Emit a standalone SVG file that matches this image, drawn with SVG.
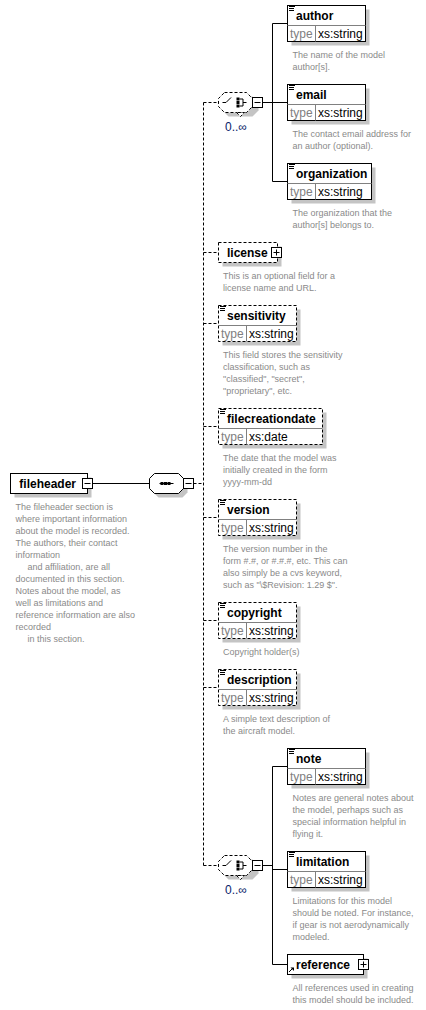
<svg xmlns="http://www.w3.org/2000/svg" xmlns:xlink="http://www.w3.org/1999/xlink" width="426" height="1010" viewBox="0 0 426 1010">
<style>
text{font-family:"Liberation Sans",Arial,sans-serif}
.box{fill:#fff;stroke:#000;stroke-width:1}
.opt{stroke-dasharray:3,2}
.sh{fill:#c4c4c4}
.ln{stroke:#000;stroke-width:1;fill:none}
.lg{stroke:#808080;stroke-width:1;fill:none}
.t{font-size:12px;font-weight:bold;fill:#000}
.ty{font-size:12px;fill:#808080}
.tv{font-size:12px;fill:#000}
.d{font-size:9px;fill:#8a8a8a}
.occ{font-size:12px;fill:#0a246a}
.c{stroke:#000;stroke-width:1;fill:none}
.cd{stroke:#000;stroke-width:1;fill:none;stroke-dasharray:3,2}
</style>
<defs>
<g id="doc"><path d="M1.5 1H7.5M1.5 3H6.5M1.5 5H6.5" stroke="#000" stroke-width="1"/></g>
<g id="minus"><rect class="box" width="10" height="10"/><path class="ln" d="M2 5H8"/></g>
<g id="plus"><rect class="box" width="10" height="10"/><path class="ln" d="M2 5H8M5 2V8"/></g>
</defs>

<g id="connectors">
<path class="c" d="M92.5 483.5H149.5"/>
<path class="cd" d="M193.5 483.5H203.5M203.5 102.5V865.5M203.5 102.5H218.5M203.5 252.5H218.5M203.5 323.5H218.5M203.5 426.5H218.5M203.5 517.5H218.5M203.5 620.5H218.5M203.5 687.5H218.5M203.5 865.5H218.5"/>
<path class="c" d="M262.5 102.5H272.5M272.5 23.5V181.5M272.5 23.5H287.5M272.5 102.5H287.5M272.5 181.5H287.5"/>
<path class="c" d="M262.5 865.5H272.5M272.5 766.5V964.5M272.5 766.5H287.5M272.5 869.5H287.5M272.5 964.5H287.5"/>
</g>

<g id="fileheader" transform="translate(10.5,473.5)">
<rect class="sh" x="4" y="4" width="77" height="20"/>
<rect class="box" width="77" height="20"/>
<text class="t" x="8.8" y="14">fileheader</text>
<use xlink:href="#minus" x="72" y="5"/>
<text class="d" x="5" y="36">The fileheader section is</text>
<text class="d" x="5" y="48">where important information</text>
<text class="d" x="5" y="60">about the model is recorded.</text>
<text class="d" x="5" y="72">The authors, their contact</text>
<text class="d" x="5" y="84">information</text>
<text class="d" x="17" y="96">and affiliation, are all</text>
<text class="d" x="5" y="108">documented in this section.</text>
<text class="d" x="5" y="120">Notes about the model, as</text>
<text class="d" x="5" y="132">well as limitations and</text>
<text class="d" x="5" y="144">reference information are also</text>
<text class="d" x="5" y="156">recorded</text>
<text class="d" x="17" y="168">in this section.</text>
</g>

<g id="sequence" transform="translate(149.5,473.5)">
<polygon class="sh" points="9,4 33,4 38,9 38,19 33,24 9,24 4,19 4,9"/>
<polygon class="box" points="5,0 29,0 34,5 34,15 29,20 5,20 0,15 0,5"/>
<path class="ln" d="M10 10H24"/>
<rect x="11" y="8.5" width="3" height="3" fill="#000"/>
<rect x="14.5" y="8.5" width="3" height="3" fill="#000"/>
<rect x="18" y="8.5" width="3" height="3" fill="#000"/>
<use xlink:href="#minus" x="34" y="5"/>
</g>

<g id="choice1" transform="translate(218.5,92.5)">
<polygon class="sh" points="10,4 34,4 40,10 40,18 34,24 10,24 4,18 4,10"/>
<polygon class="box opt" points="6,0 28,0 34,6 34,14 28,20 6,20 0,14 0,6"/>
<polygon class="box opt" points="18,20 22,24 26,20"/>
<path class="ln" d="M4 10H7.5L12.5 5"/>
<rect x="18" y="5" width="3" height="3" fill="#000"/>
<rect x="18" y="8.5" width="3" height="3" fill="#000"/>
<rect x="18" y="12" width="3" height="3" fill="#000"/>
<path class="ln" d="M21 6.5H24.5V13.5H21M24.5 10H28"/>
<use xlink:href="#minus" x="34" y="5"/>
<text class="occ" x="6.5" y="38">0..∞</text>
</g>

<g id="author" transform="translate(287.5,5.5)">
<rect class="sh" x="4" y="4" width="78" height="36"/>
<rect class="box" width="78" height="36"/>
<path class="lg" d="M0 20H78M28 20V36"/>
<use xlink:href="#doc"/>
<text class="t" x="8.5" y="14.5">author</text>
<text class="ty" x="2.5" y="32">type</text>
<text class="tv" x="30.5" y="32">xs:string</text>
<text class="d" x="5" y="52">The name of the model</text>
<text class="d" x="5" y="64">author[s].</text>
</g>

<g id="email" transform="translate(287.5,84.5)">
<rect class="sh" x="4" y="4" width="78" height="36"/>
<rect class="box" width="78" height="36"/>
<path class="lg" d="M0 20H78M28 20V36"/>
<use xlink:href="#doc"/>
<text class="t" x="8.5" y="14.5">email</text>
<text class="ty" x="2.5" y="32">type</text>
<text class="tv" x="30.5" y="32">xs:string</text>
<text class="d" x="5" y="52">The contact email address for</text>
<text class="d" x="5" y="64">an author (optional).</text>
</g>

<g id="organization" transform="translate(287.5,163.5)">
<rect class="sh" x="4" y="4" width="84" height="36"/>
<rect class="box" width="84" height="36"/>
<path class="lg" d="M0 20H84M28 20V36"/>
<use xlink:href="#doc"/>
<text class="t" x="8.5" y="14.5">organization</text>
<text class="ty" x="2.5" y="32">type</text>
<text class="tv" x="30.5" y="32">xs:string</text>
<text class="d" x="5" y="52">The organization that the</text>
<text class="d" x="5" y="64">author[s] belongs to.</text>
</g>

<g id="license" transform="translate(218.5,242.5)">
<rect class="sh" x="4" y="4" width="59" height="20"/>
<rect class="box opt" width="59" height="20"/>
<text class="t" x="8.5" y="14">license</text>
<use xlink:href="#plus" x="53" y="5"/>
<text class="d" x="4.5" y="36">This is an optional field for a</text>
<text class="d" x="4.5" y="48">license name and URL.</text>
</g>

<g id="sensitivity" transform="translate(218.5,305.5)">
<rect class="sh" x="4" y="4" width="78" height="36"/>
<rect class="box opt" width="78" height="36"/>
<path class="lg" d="M0 20H78M28 20V36"/>
<use xlink:href="#doc"/>
<text class="t" x="8.5" y="14.5">sensitivity</text>
<text class="ty" x="2.5" y="32">type</text>
<text class="tv" x="30.5" y="32">xs:string</text>
<text class="d" x="4.5" y="52">This field stores the sensitivity</text>
<text class="d" x="4.5" y="64">classification, such as</text>
<text class="d" x="4.5" y="76">"classified", "secret",</text>
<text class="d" x="4.5" y="88">"proprietary", etc.</text>
</g>

<g id="filecreationdate" transform="translate(218.5,408.5)">
<rect class="sh" x="4" y="4" width="104" height="36"/>
<rect class="box opt" width="104" height="36"/>
<path class="lg" d="M0 20H104M28 20V36"/>
<use xlink:href="#doc"/>
<text class="t" x="8.5" y="14.5">filecreationdate</text>
<text class="ty" x="2.5" y="32">type</text>
<text class="tv" x="30.5" y="32">xs:date</text>
<text class="d" x="4.5" y="52">The date that the model was</text>
<text class="d" x="4.5" y="64">initially created in the form</text>
<text class="d" x="4.5" y="76">yyyy-mm-dd</text>
</g>

<g id="version" transform="translate(218.5,499.5)">
<rect class="sh" x="4" y="4" width="78" height="36"/>
<rect class="box opt" width="78" height="36"/>
<path class="lg" d="M0 20H78M28 20V36"/>
<use xlink:href="#doc"/>
<text class="t" x="8.5" y="14.5">version</text>
<text class="ty" x="2.5" y="32">type</text>
<text class="tv" x="30.5" y="32">xs:string</text>
<text class="d" x="4.5" y="52">The version number in the</text>
<text class="d" x="4.5" y="64">form #.#, or #.#.#, etc. This can</text>
<text class="d" x="4.5" y="76">also simply be a cvs keyword,</text>
<text class="d" x="4.5" y="88">such as "\$Revision: 1.29 $".</text>
</g>

<g id="copyright" transform="translate(218.5,602.5)">
<rect class="sh" x="4" y="4" width="78" height="36"/>
<rect class="box opt" width="78" height="36"/>
<path class="lg" d="M0 20H78M28 20V36"/>
<use xlink:href="#doc"/>
<text class="t" x="8.5" y="14.5">copyright</text>
<text class="ty" x="2.5" y="32">type</text>
<text class="tv" x="30.5" y="32">xs:string</text>
<text class="d" x="4.5" y="52">Copyright holder(s)</text>
</g>

<g id="description" transform="translate(218.5,669.5)">
<rect class="sh" x="4" y="4" width="78" height="36"/>
<rect class="box opt" width="78" height="36"/>
<path class="lg" d="M0 20H78M28 20V36"/>
<use xlink:href="#doc"/>
<text class="t" x="8.5" y="14.5">description</text>
<text class="ty" x="2.5" y="32">type</text>
<text class="tv" x="30.5" y="32">xs:string</text>
<text class="d" x="4.5" y="52">A simple text description of</text>
<text class="d" x="4.5" y="64">the aircraft model.</text>
</g>

<g id="choice2" transform="translate(218.5,855.5)">
<polygon class="sh" points="10,4 34,4 40,10 40,18 34,24 10,24 4,18 4,10"/>
<polygon class="box opt" points="6,0 28,0 34,6 34,14 28,20 6,20 0,14 0,6"/>
<polygon class="box opt" points="18,20 22,24 26,20"/>
<path class="ln" d="M4 10H7.5L12.5 5"/>
<rect x="18" y="5" width="3" height="3" fill="#000"/>
<rect x="18" y="8.5" width="3" height="3" fill="#000"/>
<rect x="18" y="12" width="3" height="3" fill="#000"/>
<path class="ln" d="M21 6.5H24.5V13.5H21M24.5 10H28"/>
<use xlink:href="#minus" x="34" y="5"/>
<text class="occ" x="6.5" y="38">0..∞</text>
</g>

<g id="note" transform="translate(287.5,748.5)">
<rect class="sh" x="4" y="4" width="78" height="36"/>
<rect class="box" width="78" height="36"/>
<path class="lg" d="M0 20H78M28 20V36"/>
<use xlink:href="#doc"/>
<text class="t" x="8.5" y="14.5">note</text>
<text class="ty" x="2.5" y="32">type</text>
<text class="tv" x="30.5" y="32">xs:string</text>
<text class="d" x="5" y="52">Notes are general notes about</text>
<text class="d" x="5" y="64">the model, perhaps such as</text>
<text class="d" x="5" y="76">special information helpful in</text>
<text class="d" x="5" y="88">flying it.</text>
</g>

<g id="limitation" transform="translate(287.5,851.5)">
<rect class="sh" x="4" y="4" width="78" height="36"/>
<rect class="box" width="78" height="36"/>
<path class="lg" d="M0 20H78M28 20V36"/>
<use xlink:href="#doc"/>
<text class="t" x="8.5" y="14.5">limitation</text>
<text class="ty" x="2.5" y="32">type</text>
<text class="tv" x="30.5" y="32">xs:string</text>
<text class="d" x="5" y="52">Limitations for this model</text>
<text class="d" x="5" y="64">should be noted. For instance,</text>
<text class="d" x="5" y="76">if gear is not aerodynamically</text>
<text class="d" x="5" y="88">modeled.</text>
</g>

<g id="reference" transform="translate(287.5,954.5)">
<rect class="sh" x="4" y="4" width="76" height="20"/>
<rect class="box" width="76" height="20"/>
<path class="ln" d="M1.5 17.5L5 14"/>
<polygon points="3,13 6.5,13 6.5,16.5" fill="#000"/>
<text class="t" x="8.5" y="14.5">reference</text>
<use xlink:href="#plus" x="71" y="5"/>
<text class="d" x="5" y="36">All references used in creating</text>
<text class="d" x="5" y="48">this model should be included.</text>
</g>
</svg>
